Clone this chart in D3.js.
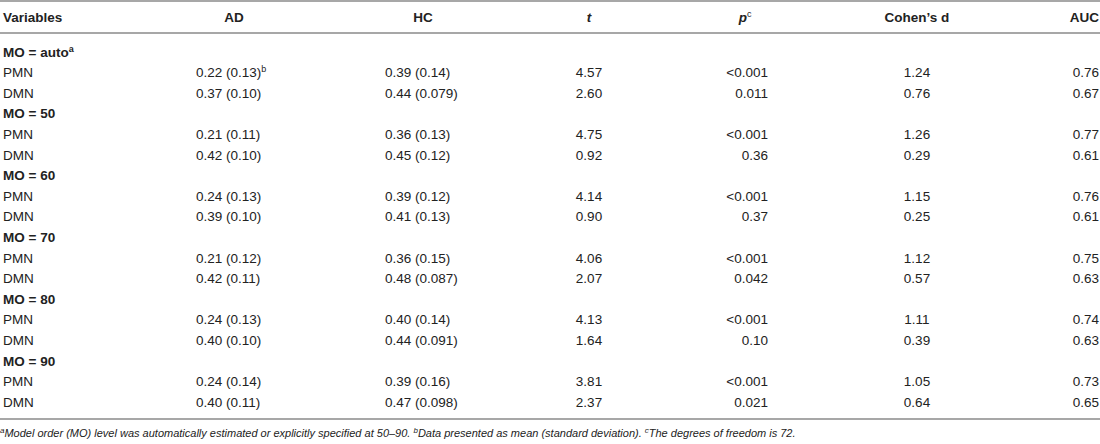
<!DOCTYPE html>
<html>
<head>
<meta charset="utf-8">
<script src="https://cdn.jsdelivr.net/npm/d3@7"></script>
<style>
  body { margin: 0; background: #fff; }
  svg text { font-family: "Liberation Sans", Arial, sans-serif; fill: #222; }
</style>
</head>
<body>
<div id="table"></div>
<script>
// table values
const groups = ["auto", "50", "60", "70", "80", "90"];
const variables = ["PMN", "DMN"];
const adMean = [0.22, 0.37, 0.21, 0.42, 0.24, 0.39, 0.21, 0.42, 0.24, 0.40, 0.24, 0.40];
const adSd = ["0.13", "0.10", "0.11", "0.10", "0.13", "0.10", "0.12", "0.11", "0.13", "0.10", "0.14", "0.11"];
const hcMean = [0.39, 0.44, 0.36, 0.45, 0.39, 0.41, 0.36, 0.48, 0.40, 0.44, 0.39, 0.47];
const hcSd = ["0.14", "0.079", "0.13", "0.12", "0.12", "0.13", "0.15", "0.087", "0.14", "0.091", "0.16", "0.098"];
const tVals = [4.57, 2.60, 4.75, 0.92, 4.14, 0.90, 4.06, 2.07, 4.13, 1.64, 3.81, 2.37];
const pVals = ["<0.001", "0.011", "<0.001", "0.36", "<0.001", "0.37", "<0.001", "0.042", "<0.001", "0.10", "<0.001", "0.021"];
const cohenD = [1.24, 0.76, 1.26, 0.29, 1.15, 0.25, 1.12, 0.57, 1.11, 0.39, 1.05, 0.64];
const aucVals = [0.76, 0.67, 0.77, 0.61, 0.76, 0.61, 0.75, 0.63, 0.74, 0.63, 0.73, 0.65];
const headers = ["Variables", "AD", "HC", "t", "p", "Cohen\u2019s d", "AUC"];
const footnote = [
  ["a", "Model order (MO) level was automatically estimated or explicitly specified at 50\u201390. "],
  ["b", "Data presented as mean (standard deviation). "],
  ["c", "The degrees of freedom is 72."]
];

const width = 1100;
const height = 444;
const f2 = d3.format(".2f");

// flatten into rows: group header + two variable rows
const rows = [];
groups.forEach(function (g, gi) {
  rows.push({ type: "group", label: "MO = " + g, sup: gi === 0 ? "a" : null });
  variables.forEach(function (v, vi) {
    const i = gi * 2 + vi;
    rows.push({
      type: "data",
      label: v,
      ad: f2(adMean[i]) + " (" + adSd[i] + ")",
      adSup: i === 0 ? "b" : null,
      hc: f2(hcMean[i]) + " (" + hcSd[i] + ")",
      t: f2(tVals[i]),
      p: pVals[i],
      d: f2(cohenD[i]),
      auc: f2(aucVals[i])
    });
  });
});

const yScale = d3.scalePoint()
  .domain(d3.range(rows.length))
  .range([52, 402]);

// column layout: header x/anchor and cell x/anchor
const cols = [
  { key: "label", hx: 3, ha: "start", cx: 3, ca: "start" },
  { key: "ad", hx: 234, ha: "middle", cx: 196, ca: "start" },
  { key: "hc", hx: 423, ha: "middle", cx: 385, ca: "start" },
  { key: "t", hx: 589, ha: "middle", cx: 589, ca: "middle" },
  { key: "p", hx: 745, ha: "middle", cx: 768, ca: "end" },
  { key: "d", hx: 917, ha: "middle", cx: 917, ca: "middle" },
  { key: "auc", hx: 1099, ha: "end", cx: 1099, ca: "end" }
];

const svg = d3.select("#table")
  .append("svg")
  .attr("width", width)
  .attr("height", height);

// rules
[1, 33, 419].forEach(function (y) {
  svg.append("line")
    .attr("x1", 0).attr("x2", width)
    .attr("y1", y).attr("y2", y)
    .attr("stroke", "#8a8a8a")
    .attr("stroke-width", 1.3);
});

// header
const head = svg.append("g");
headers.forEach(function (h, i) {
  const c = cols[i];
  const txt = head.append("text")
    .attr("x", c.hx)
    .attr("y", 17)
    .attr("dy", "0.35em")
    .attr("text-anchor", c.ha)
    .style("font-size", "13.5px")
    .style("font-weight", "bold");
  if (c.key === "t" || c.key === "p") {
    txt.append("tspan").text(h).style("font-style", "italic");
    if (c.key === "p") {
      txt.append("tspan").text("c").attr("dy", -5).style("font-size", "9px").style("font-weight", "normal");
    }
  } else {
    txt.text(h);
  }
});

// body
const body = svg.append("g");
rows.forEach(function (r, ri) {
  const y = yScale(ri);
  if (r.type === "group") {
    const g = body.append("text")
      .attr("x", cols[0].cx)
      .attr("y", y)
      .attr("dy", "0.35em")
      .style("font-size", "13.5px")
      .style("font-weight", "bold")
      .text(r.label);
    if (r.sup) {
      g.append("tspan").text(r.sup).attr("dy", -5).style("font-size", "9px");
    }
    return;
  }
  cols.forEach(function (c) {
    const cell = body.append("text")
      .attr("x", c.cx)
      .attr("y", y)
      .attr("dy", "0.35em")
      .attr("text-anchor", c.ca)
      .style("font-size", "13.5px")
      .text(r[c.key]);
    if (c.key === "ad" && r.adSup) {
      cell.append("tspan").text(r.adSup).attr("dy", -5).style("font-size", "9px");
    }
  });
});

// footnote
const foot = svg.append("text")
  .attr("x", 0)
  .attr("y", 437)
  .attr("dy", "0.35em")
  .style("font-size", "11px")
  .style("font-style", "italic");
footnote.forEach(function (f) {
  foot.append("tspan").text(f[0]).attr("dy", -4).style("font-size", "8px");
  foot.append("tspan").text(f[1]).attr("dy", 4);
});
</script>
</body>
</html>
